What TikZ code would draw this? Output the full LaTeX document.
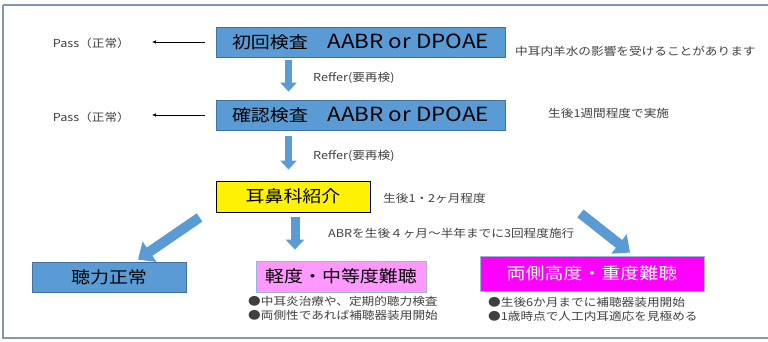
\documentclass[tikz,border=0pt]{standalone}
\usepackage{fontspec}
\setmainfont{Noto Sans CJK JP}[FakeStretch=1.15]
\usetikzlibrary{arrows.meta,calc}
\definecolor{boxblue}{HTML}{5B9BD5}
\definecolor{boxblueedge}{HTML}{41719C}
\definecolor{framecol}{HTML}{8497B0}
\definecolor{pinkfill}{HTML}{FF99FF}
\definecolor{magfill}{HTML}{FF00FF}
\definecolor{lightedge}{HTML}{9DB5D8}
\definecolor{smalltxt}{HTML}{404040}
\newcommand{\biglatin}[1]{{\fontsize{19.5}{20}\selectfont #1}}
\begin{document}
\begin{tikzpicture}[x=1pt,y=-1pt,
  bluebox/.style={draw=boxblueedge,fill=boxblue,line width=0.8pt,inner sep=0pt,font=\fontsize{16.5}{18}\selectfont,text=black},
  smalltext/.style={inner sep=0pt,font=\fontsize{11}{14.5}\selectfont,text=smalltxt},
  thinarrow/.style={draw=black,line width=0.6pt,-{Latex[length=4pt,width=3.5pt]}},
  blockarrow/.style={draw=boxblue,line width=7pt,-{Triangle[length=9pt,width=16pt]}},
  bigarrow/.style={draw=boxblue,line width=10pt,-{Triangle[length=14pt,width=24pt]}}]
\useasboundingbox (0,0) rectangle (768,341);
\draw[framecol,line width=1.5pt] (3,5) -- (780,5) (3,5) -- (3,338) -- (780,338);

% main boxes
\node[bluebox,minimum width=289pt,minimum height=30pt] (b1) at (360.5,42) {初回検査\hspace{1.2em}\biglatin{AABR or DPOAE}};
\node[bluebox,minimum width=289pt,minimum height=30pt] (b2) at (360.5,115) {確認検査\hspace{1.2em}\biglatin{AABR or DPOAE}};
\node[draw=black,fill=yellow,line width=0.9pt,inner sep=0pt,minimum width=154pt,minimum height=31pt,font=\fontsize{16.5}{18}\selectfont] (b3) at (293,196.5) {耳鼻科紹介};
\node[bluebox,minimum width=154pt,minimum height=30pt] (normal) at (109,277) {聴力正常};
\node[draw=lightedge,fill=pinkfill,line width=0.8pt,inner sep=0pt,minimum width=170pt,minimum height=31pt,font=\fontsize{16.5}{18}\selectfont] (mild) at (341,276.5) {軽度・中等度難聴};
\node[draw=lightedge,fill=magfill,line width=0.8pt,inner sep=0pt,minimum width=224pt,minimum height=35pt,font=\fontsize{16.5}{18}\selectfont,text=white] (severe) at (592,273.5) {両側高度・重度難聴};

% side texts
\node[smalltext,anchor=east] (pass1) at (130,43) {Pass（正常）};
\node[smalltext,anchor=east] (pass2) at (130,117) {Pass（正常）};
\node[smalltext,anchor=west] (note1) at (515,51) {中耳内羊水の影響を受けることがあります};
\node[smalltext,anchor=west] (note2) at (548,113) {生後1週間程度で実施};
\node[smalltext,anchor=west] (ref1) at (313,78) {Reffer(要再検)};
\node[smalltext,anchor=west] (ref2) at (313,156) {Reffer(要再検)};
\node[smalltext,anchor=west] (note3) at (383,198) {生後1・2ヶ月程度};
\node[smalltext,anchor=west] (abr) at (328,233) {ABRを生後４ヶ月～半年までに3回程度施行};
\node[smalltext,anchor=north west,align=left] (mildnote) at (248,296) {●中耳炎治療や、定期的聴力検査\\●両側性であれば補聴器装用開始};
\node[smalltext,anchor=north west,align=left] (sevnote) at (488,297) {●生後6か月までに補聴器装用開始\\●1歳時点で人工内耳適応を見極める};

% thin arrows
\draw[thinarrow,shorten <=11pt,shorten >=22pt] (b1.west) -- (pass1.east |- b1.west);
\draw[thinarrow,shorten <=11pt,shorten >=22pt] (b2.west) -- (pass2.east |- b2.west);

% block arrows
\draw[blockarrow,shorten <=3pt,shorten >=8pt] ([xshift=-72pt]b1.south) -- ([xshift=-72pt]b2.north);
\draw[blockarrow,shorten <=6pt,shorten >=11pt] ([xshift=-72pt]b2.south) -- ([xshift=-72pt]b2.south |- b3.north);
\draw[draw=boxblue,line width=9pt,-{Triangle[length=10pt,width=18pt]},shorten <=5pt,shorten >=11pt] ([xshift=2pt]b3.south) -- ([xshift=2pt]b3.south |- mild.north);
\coordinate (lstart) at ($(b3.south west)+(-16,5)$);
\coordinate (rstart) at ($(b3.south east)+(210,1)$);
\draw[bigarrow] (lstart) -- ($(normal.north)+(29,-2)$);
\draw[bigarrow] (rstart) -- ($(severe.north)+(38,-3)$);
\end{tikzpicture}
\end{document}
